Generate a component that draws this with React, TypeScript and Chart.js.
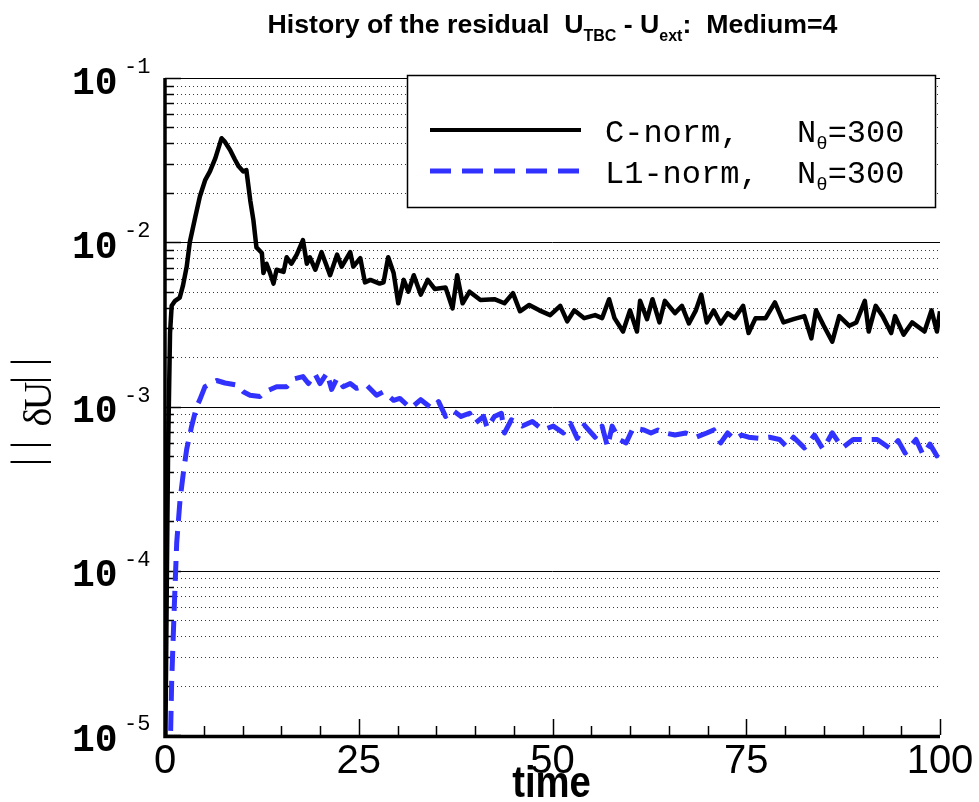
import React, { useEffect, useRef } from "react";
import { Chart, registerables } from "chart.js";

Chart.register(...registerables);

// ---- Data ----
const cNormTime = [
  0, 0.25, 0.4, 0.65, 0.86, 1.3, 1.9, 2.3, 2.8, 3.2, 3.9, 4.5, 5.2, 5.8, 6.5, 7.3, 7.7, 8.4, 9.0, 9.5,
  10.1, 10.5, 11.0, 11.4, 11.8, 12.5, 12.7, 13.1, 13.5, 14.0, 14.4, 15.3, 15.7, 16.3, 17.0, 17.8, 18.3,
  18.7, 19.4, 20.2, 20.9, 21.3, 22.2, 22.8, 23.9, 24.3, 25.2, 25.8, 26.5, 27.7, 28.2, 28.8, 29.5, 30.1,
  30.8, 31.4, 32.1, 33.0, 33.9, 34.8, 36.2, 37.1, 37.7, 38.4, 39.3, 40.7, 42.5, 43.8, 44.9, 45.8, 47.0,
  48.3, 49.7, 51.0, 51.9, 52.8, 54.1, 55.5, 56.4, 57.3, 58.0, 59.1, 60.0, 60.9, 61.3, 62.2, 62.9, 63.8,
  64.5, 65.8, 66.7, 67.6, 68.5, 69.2, 69.9, 70.8, 71.7, 72.6, 73.5, 74.6, 75.3, 76.2, 77.5, 78.7, 79.8,
  81.1, 82.5, 83.4, 84.0, 85.0, 86.1, 87.0, 88.3, 89.2, 90.3, 90.8, 91.7, 92.6, 93.7, 94.2, 95.3, 96.4,
  98.0, 98.9, 99.6, 100,
];
const cNormValue = [
  5e-6, 1e-4, 5.5e-4, 2.8e-3, 4.1e-3, 4.4e-3, 4.6e-3, 5.4e-3, 7.1e-3, 1.0e-2, 1.42e-2, 1.9e-2, 2.4e-2,
  2.7e-2, 3.25e-2, 4.3e-2, 4.1e-2, 3.65e-2, 3.2e-2, 2.9e-2, 2.7e-2, 2.75e-2, 1.8e-2, 1.37e-2, 9.3e-3,
  8.6e-3, 6.5e-3, 7.4e-3, 6.6e-3, 5.6e-3, 6.8e-3, 6.6e-3, 8.1e-3, 7.4e-3, 8.4e-3, 1.03e-2, 7.4e-3,
  8.1e-3, 6.8e-3, 8.7e-3, 7.1e-3, 6.3e-3, 8.4e-3, 7.1e-3, 8.7e-3, 7.1e-3, 8.0e-3, 5.7e-3, 5.9e-3,
  5.6e-3, 5.7e-3, 8.1e-3, 6.5e-3, 4.25e-3, 5.9e-3, 5.0e-3, 6.3e-3, 4.8e-3, 5.9e-3, 5.2e-3, 5.3e-3,
  3.96e-3, 6.3e-3, 4.25e-3, 5.0e-3, 4.45e-3, 4.5e-3, 4.25e-3, 4.9e-3, 3.8e-3, 4.15e-3, 3.85e-3, 3.6e-3,
  4.1e-3, 3.3e-3, 3.85e-3, 3.45e-3, 3.6e-3, 3.45e-3, 4.5e-3, 3.45e-3, 2.86e-3, 3.85e-3, 2.86e-3,
  4.4e-3, 3.4e-3, 4.5e-3, 3.25e-3, 4.4e-3, 3.7e-3, 4.1e-3, 3.2e-3, 3.85e-3, 4.8e-3, 3.25e-3, 3.85e-3,
  3.2e-3, 3.7e-3, 3.45e-3, 4.1e-3, 2.8e-3, 3.45e-3, 3.45e-3, 4.3e-3, 3.25e-3, 3.4e-3, 3.55e-3, 2.6e-3,
  3.85e-3, 3.1e-3, 2.48e-3, 3.55e-3, 3.1e-3, 3.25e-3, 4.4e-3, 2.86e-3, 4.1e-3, 3.55e-3, 2.8e-3,
  3.55e-3, 2.74e-3, 3.25e-3, 2.86e-3, 3.85e-3, 2.86e-3, 3.8e-3,
];

const l1NormTime = [
  0.6, 0.73, 0.86, 1.08, 1.29, 1.51, 1.94, 2.37, 2.8, 3.44, 4.08, 4.5, 5.16, 6.0, 6.67, 7.74, 9.25,
  10.1, 10.97, 12.26, 12.9, 14.4, 15.7, 16.6, 17.8, 18.5, 19.35, 20.0, 20.9, 21.5, 22.2, 23.0, 23.9,
  24.7, 26.0, 27.3, 28.2, 29.5, 30.3, 31.7, 33.0, 34.4, 35.3, 36.2, 37.1, 38.2, 39.3, 40.0, 41.1, 41.6,
  42.5, 43.4, 43.8, 44.7, 46.1, 47.4, 48.8, 50.1, 51.4, 52.3, 53.2, 54.1, 55.5, 56.4, 57.1, 57.7, 58.6,
  59.5, 60.4, 61.8, 62.7, 63.6, 64.5, 65.8, 67.2, 68.5, 69.9, 70.8, 71.7, 72.6, 73.5, 74.4, 75.3, 76.6,
  78.0, 79.3, 80.2, 81.1, 82.5, 83.8, 84.9, 86.1, 87.4, 88.8, 90.1, 91.9, 93.7, 94.6, 95.5, 96.9, 97.8,
  98.7, 99.6, 100,
];
const l1NormValue = [
  3e-6, 1.07e-5, 2.1e-5, 4.2e-5, 7.9e-5, 1.48e-4, 2.7e-4, 3.95e-4, 5.5e-4, 7.6e-4, 1.0e-3, 1.1e-3,
  1.32e-3, 1.39e-3, 1.44e-3, 1.39e-3, 1.35e-3, 1.23e-3, 1.17e-3, 1.15e-3, 1.23e-3, 1.32e-3, 1.32e-3,
  1.47e-3, 1.52e-3, 1.38e-3, 1.58e-3, 1.38e-3, 1.6e-3, 1.27e-3, 1.49e-3, 1.32e-3, 1.38e-3, 1.29e-3,
  1.35e-3, 1.17e-3, 1.23e-3, 1.09e-3, 1.12e-3, 9.75e-4, 1.1e-3, 9.75e-4, 1.07e-3, 8.7e-4, 9.5e-4,
  8.7e-4, 9.1e-4, 7.9e-4, 8.7e-4, 7.4e-4, 8.7e-4, 9.1e-4, 6.9e-4, 8.3e-4, 7.6e-4, 8.1e-4, 7.2e-4,
  7.6e-4, 6.9e-4, 7.9e-4, 6.4e-4, 7.7e-4, 6.5e-4, 7.6e-4, 5.7e-4, 7.6e-4, 6.3e-4, 6.0e-4, 7.4e-4,
  7.2e-4, 6.9e-4, 7.2e-4, 6.9e-4, 6.7e-4, 6.9e-4, 6.5e-4, 6.9e-4, 7.2e-4, 6.0e-4, 6.9e-4, 6.3e-4,
  6.7e-4, 6.5e-4, 6.4e-4, 6.5e-4, 6.3e-4, 5.7e-4, 6.5e-4, 5.6e-4, 6.7e-4, 5.5e-4, 6.9e-4, 5.6e-4,
  6.3e-4, 6.3e-4, 6.3e-4, 5.5e-4, 6.2e-4, 5.2e-4, 6.3e-4, 5.1e-4, 5.9e-4, 5.0e-4, 5.6e-4,
];

const xTickValues = [0, 25, 50, 75, 100];
const xTickLabels = ["0", "25", "50", "75", "100"];
const xMinorStep = 5;
const yDecadeExponents = [-1, -2, -3, -4, -5];
const seriesNames = ["C-norm,   N", "L1-norm,  N"];
const seriesSuffix = "=300";
const seriesSub = "\u03b8";

const BLACK = "#000000";
const BLUE = "#3232ff";

type Part = { t: string; font: string; dy: number };

function drawParts(ctx: CanvasRenderingContext2D, parts: Part[], x: number, y: number, center: boolean) {
  let w = 0;
  parts.forEach((p) => {
    ctx.font = p.font;
    w += ctx.measureText(p.t).width;
  });
  let cx = center ? x - w / 2 : x;
  ctx.textAlign = "left";
  ctx.textBaseline = "alphabetic";
  parts.forEach((p) => {
    ctx.font = p.font;
    ctx.fillText(p.t, cx, y + p.dy);
    cx += ctx.measureText(p.t).width;
  });
}

const decor = {
  id: "decor",
  beforeDatasetsDraw(chart: any) {
    const { ctx, chartArea: a, scales } = chart;
    const x = scales.x;
    const y = scales.y;
    ctx.save();
    // minor dotted grid
    ctx.strokeStyle = "#3a3a3a";
    ctx.lineWidth = 1;
    ctx.setLineDash([1, 3]);
    for (let e = -5; e < -1; e++) {
      for (let m = 2; m <= 9; m++) {
        const v = m * Math.pow(10, e);
        const py = Math.round(y.getPixelForValue(v)) + 0.5;
        ctx.beginPath();
        ctx.moveTo(a.left, py);
        ctx.lineTo(a.right, py);
        ctx.stroke();
      }
    }
    ctx.setLineDash([]);
    // major solid grid
    ctx.strokeStyle = "#000";
    yDecadeExponents.forEach((e) => {
      const py = Math.round(y.getPixelForValue(Math.pow(10, e))) + 0.5;
      ctx.beginPath();
      ctx.moveTo(a.left, py);
      ctx.lineTo(a.right, py);
      ctx.stroke();
    });
    // ticks on left axis
    ctx.lineWidth = 1.5;
    for (let e = -5; e <= -1; e++) {
      for (let m = 1; m <= 9; m++) {
        if (e === -1 && m > 1) break;
        const v = m * Math.pow(10, e);
        const py = Math.round(y.getPixelForValue(v)) + 0.5;
        const len = m === 1 ? 16 : 9;
        ctx.beginPath();
        ctx.moveTo(a.left, py);
        ctx.lineTo(a.left + len, py);
        ctx.stroke();
      }
    }
    // ticks on bottom axis
    for (let t = 0; t <= 100; t += xMinorStep) {
      const px = Math.round(x.getPixelForValue(t)) + 0.5;
      const len = t % 25 === 0 ? 16 : 9;
      ctx.beginPath();
      ctx.moveTo(px, a.bottom);
      ctx.lineTo(px, a.bottom - len);
      ctx.stroke();
    }
    // axis lines
    ctx.lineWidth = 3.5;
    ctx.beginPath();
    ctx.moveTo(a.left, a.top);
    ctx.lineTo(a.left, a.bottom + 1.5);
    ctx.lineTo(a.right, a.bottom + 1.5);
    ctx.stroke();
    ctx.restore();
  },
  afterDraw(chart: any) {
    const { ctx, chartArea: a, scales } = chart;
    const x = scales.x;
    const y = scales.y;
    ctx.save();
    ctx.fillStyle = "#000";

    // title
    const tb = "bold 26.7px 'Liberation Sans', Arial, sans-serif";
    const ts = "bold 16px 'Liberation Sans', Arial, sans-serif";
    drawParts(
      ctx,
      [
        { t: "History of the residual  U", font: tb, dy: 0 },
        { t: "TBC", font: ts, dy: 8 },
        { t: " - U", font: tb, dy: 0 },
        { t: "ext", font: ts, dy: 8 },
        { t: ":  Medium=4", font: tb, dy: 0 },
      ],
      (a.left + a.right) / 2,
      33,
      true
    );

    // y tick labels
    yDecadeExponents.forEach((e) => {
      const py = y.getPixelForValue(Math.pow(10, e));
      ctx.textAlign = "left";
      ctx.textBaseline = "alphabetic";
      ctx.font = "bold 38px 'Liberation Mono', 'Courier New', monospace";
      ctx.fillText("10", 72, py + 15.5);
      ctx.font = "22px 'Liberation Mono', 'Courier New', monospace";
      ctx.fillText(String(e), 124, py - 5);
    });

    // x tick labels
    ctx.font = "40px 'Liberation Sans', Arial, sans-serif";
    ctx.textAlign = "center";
    ctx.textBaseline = "alphabetic";
    xTickValues.forEach((v, i) => {
      ctx.fillText(xTickLabels[i], x.getPixelForValue(v), 773);
    });

    // x title
    ctx.save();
    ctx.translate((a.left + a.right) / 2 - 1, 797);
    ctx.scale(0.87, 1);
    ctx.font = "bold 44px 'Liberation Sans', Arial, sans-serif";
    ctx.textAlign = "center";
    ctx.fillText("time", 0, 0);
    ctx.restore();

    // y title ||δU|| rotated
    ctx.save();
    ctx.translate(0, 412);
    ctx.rotate(-Math.PI / 2);
    ctx.textAlign = "center";
    ctx.textBaseline = "alphabetic";
    ctx.font = "45px 'Liberation Serif', 'Times New Roman', serif";
    [-50, -33, 32, 50].forEach((off) => ctx.fillText("|", off, 42));
    ctx.font = "40px 'Liberation Serif', 'Times New Roman', serif";
    ctx.fillText("\u03b4", -5, 51);
    ctx.fillText("U", 16, 51);
    ctx.restore();

    // legend box
    const lx = 407, ly = 75, lw = 528, lh = 132;
    ctx.fillStyle = "#fff";
    ctx.fillRect(lx, ly, lw, lh);
    ctx.strokeStyle = "#000";
    ctx.lineWidth = 1.5;
    ctx.strokeRect(lx + 0.5, ly + 0.5, lw, lh);
    const rows = [
      { yLine: 130, yText: 142, color: BLACK, width: 4, dash: [] as number[] },
      { yLine: 171, yText: 183, color: BLUE, width: 5, dash: [21, 11] },
    ];
    rows.forEach((r, i) => {
      ctx.strokeStyle = r.color;
      ctx.lineWidth = r.width;
      ctx.setLineDash(r.dash);
      ctx.beginPath();
      ctx.moveTo(430, r.yLine);
      ctx.lineTo(581, r.yLine);
      ctx.stroke();
      ctx.setLineDash([]);
      ctx.fillStyle = "#000";
      const mf = "32px 'Liberation Mono', 'Courier New', monospace";
      drawParts(
        ctx,
        [
          { t: seriesNames[i], font: mf, dy: 0 },
          { t: seriesSub, font: "19px 'Liberation Mono', 'Courier New', monospace", dy: 7 },
          { t: seriesSuffix, font: mf, dy: 0 },
        ],
        605,
        r.yText,
        false
      );
    });
    ctx.restore();
  },
};

export default function App() {
  const ref = useRef<HTMLCanvasElement | null>(null);
  useEffect(() => {
    document.body.style.margin = "0";
    const canvas = ref.current;
    if (!canvas) return;
    const chart = new Chart(canvas, {
      type: "line",
      data: {
        datasets: [
          {
            label: "C-norm",
            data: cNormTime.map((t, i) => ({ x: t, y: cNormValue[i] })),
            borderColor: BLACK,
            borderWidth: 4.5,
            pointRadius: 0,
            tension: 0,
            fill: false,
            borderJoinStyle: "round",
          },
          {
            label: "L1-norm",
            data: l1NormTime.map((t, i) => ({ x: t, y: l1NormValue[i] })),
            borderColor: BLUE,
            borderWidth: 5,
            borderDash: [20, 10],
            pointRadius: 0,
            tension: 0,
            fill: false,
            borderJoinStyle: "round",
          },
        ],
      },
      options: {
        responsive: false,
        animation: false,
        devicePixelRatio: 1,
        events: [],
        layout: { padding: { left: 165, right: 39, top: 78, bottom: 67 } },
        scales: {
          x: { type: "linear", min: 0, max: 100, display: false },
          y: { type: "logarithmic", min: 1e-5, max: 1e-1, display: false },
        },
        plugins: {
          legend: { display: false },
          tooltip: { enabled: false },
          title: { display: false },
        },
      },
      plugins: [decor],
    } as any);
    return () => chart.destroy();
  }, []);
  return (
    <div style={{ position: "absolute", left: 0, top: 0, width: 979, height: 802, background: "#fff" }}>
      <canvas ref={ref} width={979} height={802} style={{ display: "block" }} />
    </div>
  );
}
